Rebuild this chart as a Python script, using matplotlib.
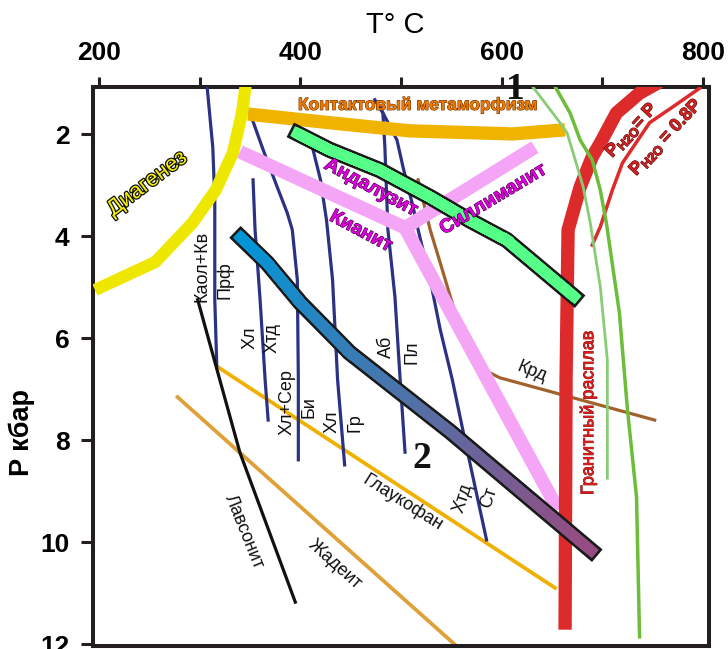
import numpy as np
import matplotlib
matplotlib.use('Agg')
import matplotlib.pyplot as plt
import matplotlib.patheffects as pe
from matplotlib.collections import LineCollection
from matplotlib.colors import LinearSegmentedColormap

plt.rcParams['font.family'] = ['Liberation Sans', 'DejaVu Sans']
plt.rcParams['mathtext.fontset'] = 'custom'
plt.rcParams['mathtext.rm'] = 'Liberation Sans'
plt.rcParams['mathtext.bf'] = 'Liberation Sans:bold'

# --- data (T in deg C, P in kbar) ---
diag_T = [196, 256, 293, 316, 333, 342, 346]
diag_P = [5.05, 4.50, 3.73, 3.09, 2.36, 1.58, 0.99]

contact_T = [348, 429, 509, 611, 663]
contact_P = [1.60, 1.77, 1.93, 1.99, 1.91]

# Al2SiO5 triple point and branches
and_T = [340, 504, 633]
and_P = [2.34, 3.83, 2.25]
ky_sil_T = [504, 656]
ky_sil_P = [3.83, 9.36]

band1_T = [390, 429, 479, 529, 568, 605, 678]
band1_P = [1.91, 2.30, 2.70, 3.23, 3.68, 4.07, 5.28]

band2_T = [335, 367, 400, 449, 549, 695]
band2_P = [3.91, 4.52, 5.30, 6.28, 7.83, 10.26]

melt_T = [663, 664, 666, 678, 690, 698, 714, 737, 757]
melt_P = [11.71, 6.81, 3.87, 3.03, 2.44, 2.17, 1.58, 1.19, 0.97]

melt08_T = [690, 698, 710, 720, 747, 770, 797]
melt08_P = [4.17, 3.81, 3.09, 2.56, 1.77, 1.46, 1.09]

green_dark_T = [651, 668, 678, 690, 698, 704, 717, 725, 734, 737]
green_dark_P = [0.99, 1.58, 2.11, 2.50, 3.09, 3.73, 5.50, 7.40, 9.11, 11.85]

green_light_T = [628, 658, 665, 671, 681, 688, 698, 705, 705]
green_light_P = [0.99, 1.77, 1.97, 2.36, 3.03, 3.73, 4.99, 6.42, 8.74]

crd_T = [517, 529, 539, 549, 559, 575, 588, 598, 752]
crd_P = [2.89, 3.87, 4.52, 5.18, 5.83, 6.36, 6.67, 6.77, 7.60]

# isograds (navy lines)
prf_T = [307, 313, 315, 315, 317]
prf_P = [0.99, 2.25, 3.28, 5.24, 6.56]
htd_T = [353, 355, 360, 365, 368]
htd_P = [2.89, 3.87, 5.24, 6.81, 7.60]
bi_T = [350, 363, 377, 387, 392, 397, 398, 398]
bi_P = [1.58, 2.30, 3.03, 3.54, 3.87, 4.85, 6.81, 8.38]
gr_T = [412, 420, 426, 432, 437, 444]
gr_P = [2.25, 2.89, 3.68, 4.85, 6.81, 8.48]
pl_T = [474, 482, 484, 487, 494, 499, 504]
pl_P = [1.32, 1.58, 2.25, 3.87, 5.19, 6.76, 8.23]
st_T = [479, 496, 502, 512, 517, 529, 539, 551, 562, 585]
st_P = [1.46, 2.11, 2.64, 3.42, 3.87, 4.85, 5.83, 6.81, 7.85, 9.95]

lws_T = [298, 318, 340, 395]
lws_P = [5.24, 6.67, 8.24, 11.17]
glauc_T = [318, 653]
glauc_P = [6.56, 10.89]
jad_T = [278, 554]
jad_P = [7.15, 12.01]

x_ticks = [200, 300, 400, 500, 600, 700, 800]
x_labels = ['200', '', '400', '', '600', '', '800']
y_ticks = [2, 4, 6, 8, 10, 12]


def band(ax, T, P, colors, w_out=11.8, w_in=7.8, edge_px=2.6, z=5):
    """Thick band with black border, optional colour gradient along it."""
    ax.plot(T, P, color='#1a1a1a', lw=w_out, solid_capstyle='butt',
            solid_joinstyle='miter', zorder=z)
    pts = ax.transData.transform(np.column_stack([T, P])).astype(float)
    trim = edge_px + w_in / 72 * 100 / 2
    for i, j in ((0, 1), (-1, -2)):
        d = pts[j] - pts[i]
        pts[i] = pts[i] + d / np.hypot(*d) * trim
    dense = [np.linspace(a, b, 30, endpoint=False) for a, b in zip(pts[:-1], pts[1:])]
    dense = np.vstack(dense + [pts[-1:]])
    data = ax.transData.inverted().transform(dense)
    segs = np.stack([data[:-1], data[1:]], axis=1)
    s = np.r_[0, np.cumsum(np.hypot(*np.diff(dense, axis=0).T))]
    frac = (s[:-1] + s[1:]) / 2 / s[-1]
    cmap = LinearSegmentedColormap.from_list('band', colors)
    lc = LineCollection(segs, colors=cmap(frac), linewidths=w_in,
                        capstyle='projecting', zorder=z + 0.1)
    ax.add_collection(lc)


def label(ax, T, P, s, rot=0, color='#111111', size=13, weight='normal',
          edge=None, ew=1.0, family=None):
    t = ax.text(T, P, s, rotation=rot, color=color, fontsize=size,
                fontweight=weight, ha='center', va='center',
                rotation_mode='anchor', zorder=20)
    if family:
        t.set_family(family)
    if edge:
        t.set_path_effects([pe.withStroke(linewidth=ew, foreground=edge)])
    return t


fig = plt.figure(figsize=(7.28, 6.49), dpi=100)
ax = fig.add_axes([93 / 728, 3 / 649, 616 / 728, 559 / 649])
ax.set_xlim(194, 806)
ax.set_ylim(12.03, 1.07)

# thin lines
ax.plot(jad_T, jad_P, color='#e0a038', lw=2.7, zorder=2)
ax.plot(glauc_T, glauc_P, color='#f0b000', lw=2.7, zorder=2)
for T, P in [(prf_T, prf_P), (htd_T, htd_P), (bi_T, bi_P),
             (gr_T, gr_P), (pl_T, pl_P), (st_T, st_P)]:
    ax.plot(T, P, color='#2b3283', lw=2.3, zorder=3)
ax.plot(lws_T, lws_P, color='#111111', lw=2.3, zorder=3.5)
ax.plot(crd_T, crd_P, color='#a0622d', lw=2.3, zorder=3)

# thick fields
ax.plot(diag_T, diag_P, color='#eee800', lw=8.8, solid_capstyle='butt', zorder=4)
ax.plot(contact_T, contact_P, color='#f0b400', lw=9.6, solid_capstyle='butt', zorder=4)
ax.plot(and_T, and_P, color='#f5a5f5', lw=9.8, solid_capstyle='butt', zorder=4)
ax.plot(ky_sil_T, ky_sil_P, color='#f5a5f5', lw=9.8, solid_capstyle='butt', zorder=4)
ax.plot(melt_T, melt_P, color='#dd2a2a', lw=9.6, solid_capstyle='butt', zorder=4.5)
ax.plot(melt08_T, melt08_P, color='#dd2a2a', lw=2.5, zorder=4.5)

band(ax, band2_T, band2_P, ['#0096d8', '#4f72a8', '#964c82'], z=5)
band(ax, band1_T, band1_P, ['#55ff88', '#55ff88'], z=6)

ax.plot(green_light_T, green_light_P, color='#88cc78', lw=2.0, zorder=7)
ax.plot(green_dark_T, green_dark_P, color='#6cbd3a', lw=2.5, zorder=7)

# labels
label(ax, 248, 2.97, 'Диагенез', 37, color='#f5ef00', size=16, edge='#111111', ew=1.8)
label(ax, 517, 1.42, 'Контактовый метаморфизм', 0, color='#ee7a00', size=12.5,
      weight='bold', edge='#6a3000', ew=0.8)
label(ax, 470, 3.05, 'Андалузит', -28, color='#dd00dd', size=14, weight='bold',
      edge='#3a003a', ew=0.8)
label(ax, 460, 3.91, 'Кианит', -28, color='#dd00dd', size=14, weight='bold',
      edge='#3a003a', ew=0.8)
label(ax, 592, 3.28, 'Силлиманит', 31, color='#dd00dd', size=14, weight='bold',
      edge='#3a003a', ew=0.8)
label(ax, 686, 7.46, 'Гранитный расплав', 90, color='#e01b1b', size=13,
      edge='#701010', ew=0.6)
label(ax, 729, 1.91, r'P$_{\mathbf{H2O}}$= P', 47, color='#d42020', size=13,
      weight='bold', edge='#501010', ew=0.8)
label(ax, 763, 2.05, r'P$_{\mathbf{H2O}}$ = 0.8P', 47, color='#d42020', size=13,
      weight='bold', edge='#501010', ew=0.8)

label(ax, 302, 4.58, 'Каол+Кв', 90)
label(ax, 325, 4.85, 'Прф', 90)
label(ax, 350, 5.99, 'Хл', 90)
label(ax, 372, 5.99, 'Хтд', 90)
label(ax, 387, 7.25, 'Хл+Сер', 90)
label(ax, 409, 7.34, 'Би', 90)
label(ax, 432, 7.64, 'Хл', 90)
label(ax, 454, 7.66, 'Гр', 90)
label(ax, 486, 6.17, 'Аб', 90)
label(ax, 511, 6.27, 'Пл', 90)
label(ax, 562, 9.13, 'Хтд', 72)
label(ax, 588, 9.13, 'Ст', 72)
label(ax, 630, 6.66, 'Крд', -22)
label(ax, 502, 9.23, 'Глаукофан', -32)
label(ax, 434, 10.44, 'Жадеит', -42)
label(ax, 344, 9.80, 'Лавсонит', -68)

label(ax, 614, 1.11, '1', 0, size=27, weight='bold', family='Liberation Serif')
label(ax, 521, 8.35, '2', 0, size=27, weight='bold', family='Liberation Serif')

# axes styling
ax.xaxis.tick_top()
ax.set_xticks(x_ticks)
ax.set_xticklabels(x_labels, fontweight='bold')
ax.set_yticks(y_ticks)
ax.set_yticklabels([str(v) for v in y_ticks], fontweight='bold')
ax.tick_params(axis='x', direction='out', length=7.5, width=2.2, pad=8,
               labelsize=19, color='#231f20')
ax.tick_params(axis='y', direction='out', length=9, width=2.2, pad=8,
               labelsize=19, color='#231f20')
for sp in ax.spines.values():
    sp.set_linewidth(2.9)
    sp.set_color('#231f20')

fig.text(395 / 728, 1 - 25 / 649, 'T° C', ha='center', va='center', fontsize=21)
fig.text(22 / 728, 1 - 432 / 649, 'P кбар', rotation=90, ha='center', va='center',
         fontsize=19.5, fontweight='bold')

fig.savefig('out.png', dpi=100)
